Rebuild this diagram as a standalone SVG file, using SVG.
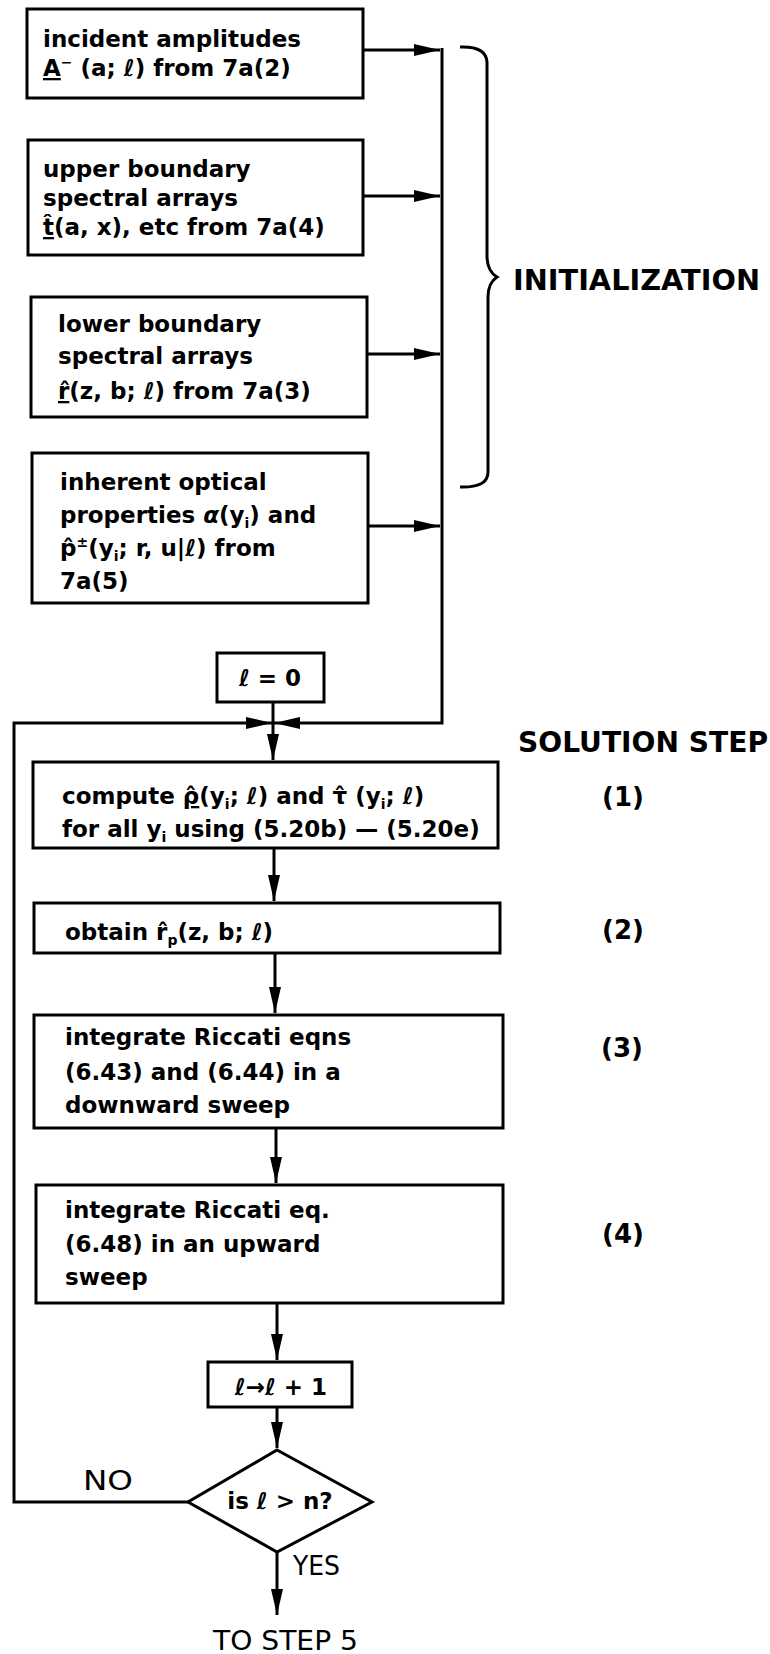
<svg xmlns="http://www.w3.org/2000/svg" width="770" height="1654" viewBox="0 0 770 1654">
<style>
.box{fill:#fff;stroke:#000;stroke-width:3}
.t{font-family:"DejaVu Sans",sans-serif;font-weight:bold;font-size:23px;fill:#000}
.sub{font-size:14px}
.conn{fill:none;stroke:#000;stroke-width:3}
.hd{font-family:"DejaVu Sans",sans-serif;font-weight:bold;fill:#000}
.lbl{font-family:"DejaVu Sans",sans-serif;font-size:26px;fill:#000}
</style>
<defs>
<marker id="ah" markerUnits="userSpaceOnUse" markerWidth="28" markerHeight="14" refX="26" refY="6" orient="auto">
<path d="M0,0 L26,6 L0,12 z" fill="#000"/>
</marker>
</defs>
<rect width="770" height="1654" fill="#fff"/>

<g id="connectors">
<path class="conn" d="M363,50 L440,50" marker-end="url(#ah)"/>
<path class="conn" d="M363,196 L440,196" marker-end="url(#ah)"/>
<path class="conn" d="M367,354 L440,354" marker-end="url(#ah)"/>
<path class="conn" d="M368,526 L440,526" marker-end="url(#ah)"/>
<path class="conn" d="M442,48 L442,723 L274,723" marker-end="url(#ah)"/>
<path class="conn" d="M188,1502 L14,1502 L14,723 L272,723" marker-end="url(#ah)"/>
<path class="conn" d="M273,702 L273,760" marker-end="url(#ah)"/>
<path class="conn" d="M274,848 L274,901" marker-end="url(#ah)"/>
<path class="conn" d="M275,953 L275,1013" marker-end="url(#ah)"/>
<path class="conn" d="M276,1128 L276,1183" marker-end="url(#ah)"/>
<path class="conn" d="M277,1303 L277,1360" marker-end="url(#ah)"/>
<path class="conn" d="M277,1407 L277,1448" marker-end="url(#ah)"/>
<path class="conn" d="M277,1552 L277,1615" marker-end="url(#ah)"/>
</g>

<g id="brace">
<path class="conn" d="M460,47 Q486,46 487,62 L487,258 Q488,272 497,277 Q488,283 488,297 L488,472 Q488,488 460,487"/>
<text class="hd" x="513" y="290" font-size="29" textLength="247" lengthAdjust="spacingAndGlyphs">INITIALIZATION</text>
</g>

<g id="step-label">
<text class="hd" x="518" y="752" font-size="28" textLength="250" lengthAdjust="spacingAndGlyphs">SOLUTION STEP</text>
</g>

<g id="n1">
<rect class="box" x="27" y="9" width="336" height="89"/>
<text class="t" x="43" y="47">incident amplitudes</text>
<text class="t" x="43" y="76"><tspan text-decoration="underline">A</tspan><tspan class="sub" dy="-9">−</tspan><tspan dy="9"> (a; ℓ) from 7a(2)</tspan></text>
</g>

<g id="n2">
<rect class="box" x="28" y="140" width="335" height="115"/>
<text class="t" x="43" y="177">upper boundary</text>
<text class="t" x="43" y="206">spectral arrays</text>
<text class="t" x="43" y="235"><tspan text-decoration="underline">t&#x302;</tspan>(a, x), etc from 7a(4)</text>
</g>

<g id="n3">
<rect class="box" x="31" y="297" width="336" height="120"/>
<text class="t" x="58" y="332">lower boundary</text>
<text class="t" x="58" y="364">spectral arrays</text>
<text class="t" x="58" y="399"><tspan text-decoration="underline">r&#x302;</tspan>(z, b; ℓ) from 7a(3)</text>
</g>

<g id="n4">
<rect class="box" x="32" y="453" width="336" height="150"/>
<text class="t" x="60" y="490">inherent optical</text>
<text class="t" x="60" y="523">properties <tspan font-style="italic">α</tspan>(y<tspan class="sub" dy="5">i</tspan><tspan dy="-5">) and</tspan></text>
<text class="t" x="60" y="556">p&#x302;<tspan class="sub" dy="-9">±</tspan><tspan dy="9">(y</tspan><tspan class="sub" dy="5">i</tspan><tspan dy="-5">; r, u|ℓ) from</tspan></text>
<text class="t" x="60" y="589">7a(5)</text>
</g>

<g id="n-init">
<rect class="box" x="217" y="653" width="107" height="49"/>
<text class="t" x="270" y="686" font-size="26" text-anchor="middle">ℓ = 0</text>
</g>

<g id="n5">
<rect class="box" x="33" y="762" width="465" height="86"/>
<text class="t" x="62" y="804">compute <tspan text-decoration="underline">ρ&#x302;</tspan>(y<tspan class="sub" dy="5">i</tspan><tspan dy="-5">; ℓ) and τ&#x302; (y</tspan><tspan class="sub" dy="5">i</tspan><tspan dy="-5">; ℓ)</tspan></text>
<text class="t" x="62" y="837">for all y<tspan class="sub" dy="5">i</tspan><tspan dy="-5"> using (5.20b) — (5.20e)</tspan></text>
</g>

<g id="n6">
<rect class="box" x="34" y="903" width="466" height="50"/>
<text class="t" x="65" y="940">obtain r&#x302;<tspan class="sub" dy="5">p</tspan><tspan dy="-5">(z, b; ℓ)</tspan></text>
</g>

<g id="n7">
<rect class="box" x="34" y="1015" width="469" height="113"/>
<text class="t" x="65" y="1045">integrate Riccati  eqns</text>
<text class="t" x="65" y="1080">(6.43) and (6.44) in a</text>
<text class="t" x="65" y="1113">downward sweep</text>
</g>

<g id="n8">
<rect class="box" x="36" y="1185" width="467" height="118"/>
<text class="t" x="65" y="1218">integrate Riccati eq.</text>
<text class="t" x="65" y="1252">(6.48) in an upward</text>
<text class="t" x="65" y="1285">sweep</text>
</g>

<g id="n-inc">
<rect class="box" x="208" y="1362" width="144" height="45"/>
<text class="t" x="281" y="1395" font-size="25" text-anchor="middle">ℓ→ℓ + 1</text>
</g>

<g id="n-dec">
<polygon class="box" points="277,1450 372,1502 277,1552 188,1502"/>
<text class="t" x="280" y="1509" font-size="24" text-anchor="middle">is ℓ &gt; n?</text>
</g>

<g id="steps">
<text class="hd" x="623" y="806" font-size="26" text-anchor="middle">(1)</text>
<text class="hd" x="623" y="939" font-size="26" text-anchor="middle">(2)</text>
<text class="hd" x="622" y="1057" font-size="26" text-anchor="middle">(3)</text>
<text class="hd" x="623" y="1243" font-size="26" text-anchor="middle">(4)</text>
</g>

<g id="labels">
<text class="lbl" x="83" y="1490" font-size="25" textLength="50" lengthAdjust="spacingAndGlyphs">NO</text>
<text class="lbl" x="293" y="1575" font-size="27" textLength="47" lengthAdjust="spacingAndGlyphs">YES</text>
<text class="lbl" x="213" y="1650" font-size="29" textLength="145" lengthAdjust="spacingAndGlyphs">TO STEP 5</text>
</g>
</svg>
